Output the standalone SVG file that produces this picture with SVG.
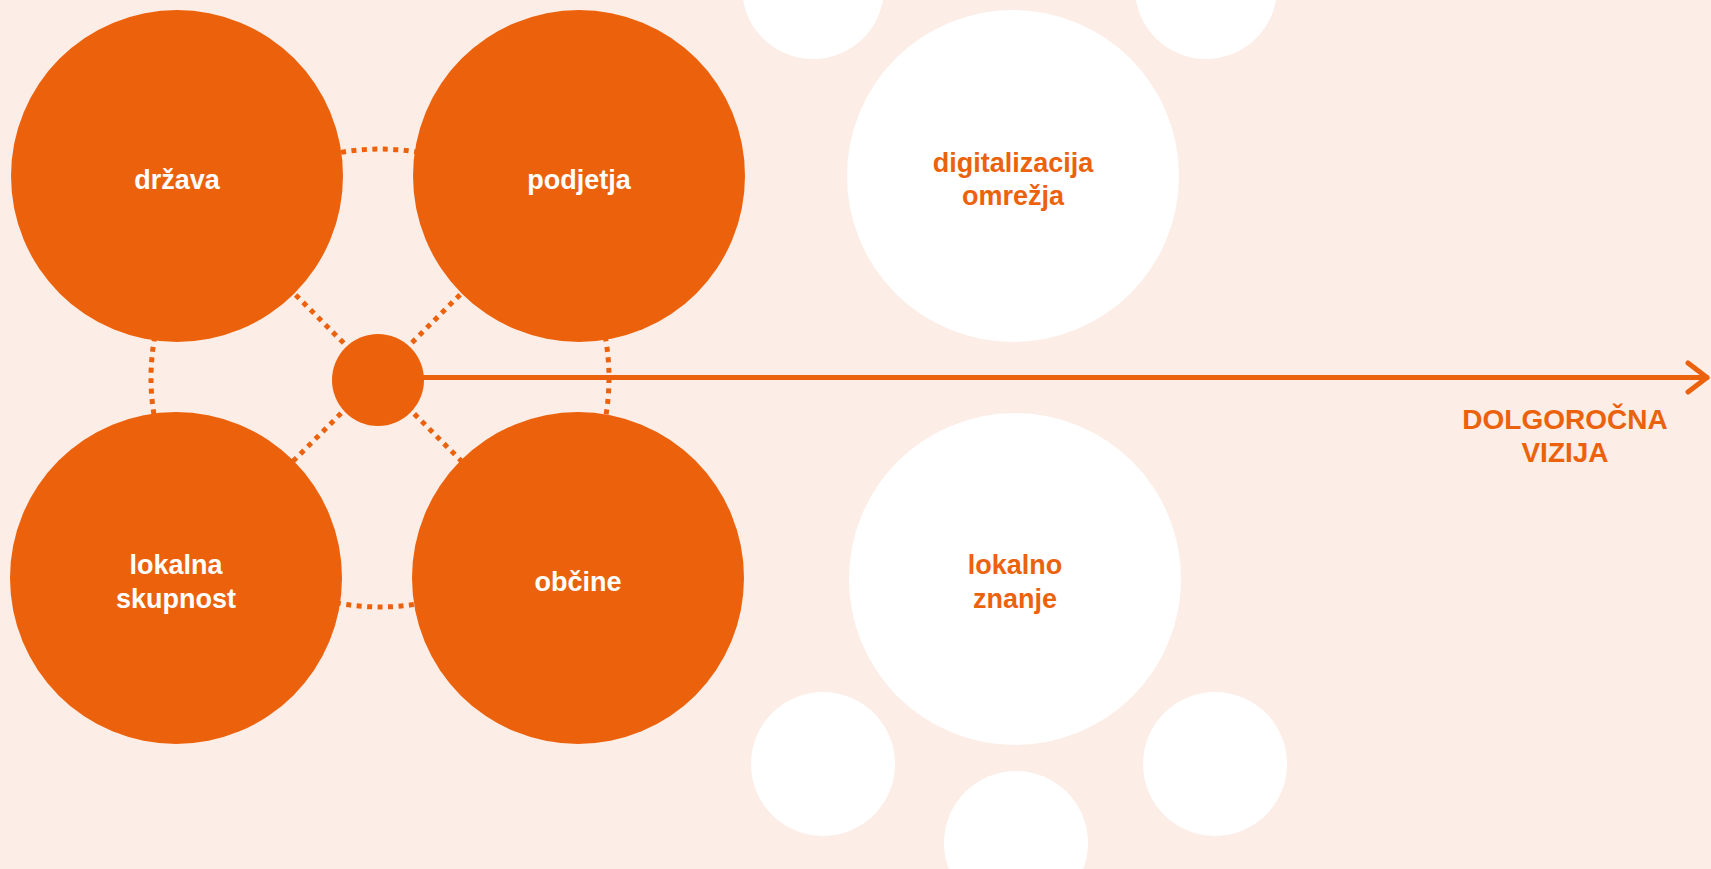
<svg xmlns="http://www.w3.org/2000/svg" width="1711" height="869" viewBox="0 0 1711 869">
<style>
.bg{fill:#FCEEE7}
.org{fill:#EC620C}
.wht{fill:#FFFFFF}
.dot{fill:none;stroke:#EC620C;stroke-width:5;stroke-dasharray:5 5.5}
.line{fill:none;stroke:#EC620C;stroke-width:5;stroke-linecap:round;stroke-linejoin:round}
text{font-family:"Liberation Sans",Arial,sans-serif;font-weight:bold;font-size:27px;text-anchor:middle}
.tw{fill:#FFFFFF}
.to{fill:#EC620C}
</style>
<rect class="bg" x="0" y="0" width="1711" height="869"/>
<g id="connectors">
  <circle class="dot" cx="380" cy="378" r="229"/>
  <line class="dot" x1="177" y1="176" x2="578" y2="578"/>
  <line class="dot" x1="579" y1="176" x2="176" y2="578"/>
  <line class="line" x1="424" y1="377.5" x2="1707" y2="377.5"/>
  <polyline class="line" points="1688,363 1707,377.5 1688,392"/>
</g>
<g id="drzava"><circle class="org" cx="177" cy="176" r="166"/><text class="tw" x="177" y="189">država</text></g>
<g id="podjetja"><circle class="org" cx="579" cy="176" r="166"/><text class="tw" x="579" y="189">podjetja</text></g>
<g id="lokalna-skupnost"><circle class="org" cx="176" cy="578" r="166"/><text class="tw" x="176" y="574">lokalna</text><text class="tw" x="176" y="608">skupnost</text></g>
<g id="obcine"><circle class="org" cx="578" cy="578" r="166"/><text class="tw" x="578" y="591">občine</text></g>
<g id="center"><circle class="org" cx="378" cy="380" r="46"/></g>
<g id="digitalizacija"><circle class="wht" cx="1013" cy="176" r="166"/><text class="to" x="1013" y="172">digitalizacija</text><text class="to" x="1013" y="205">omrežja</text></g>
<g id="lokalno-znanje"><circle class="wht" cx="1015" cy="579" r="166"/><text class="to" x="1015" y="574">lokalno</text><text class="to" x="1015" y="608">znanje</text></g>
<g id="small-top-left"><circle class="wht" cx="813" cy="-12" r="71"/></g>
<g id="small-top-right"><circle class="wht" cx="1206" cy="-12" r="71"/></g>
<g id="small-bottom-left"><circle class="wht" cx="823" cy="764" r="72"/></g>
<g id="small-bottom-center"><circle class="wht" cx="1016" cy="843" r="72"/></g>
<g id="small-bottom-right"><circle class="wht" cx="1215" cy="764" r="72"/></g>
<g id="vision-label"><text class="to" x="1565" y="429" style="font-size:28px">DOLGOROČNA</text><text class="to" x="1565" y="462" style="font-size:28px">VIZIJA</text></g>
</svg>
